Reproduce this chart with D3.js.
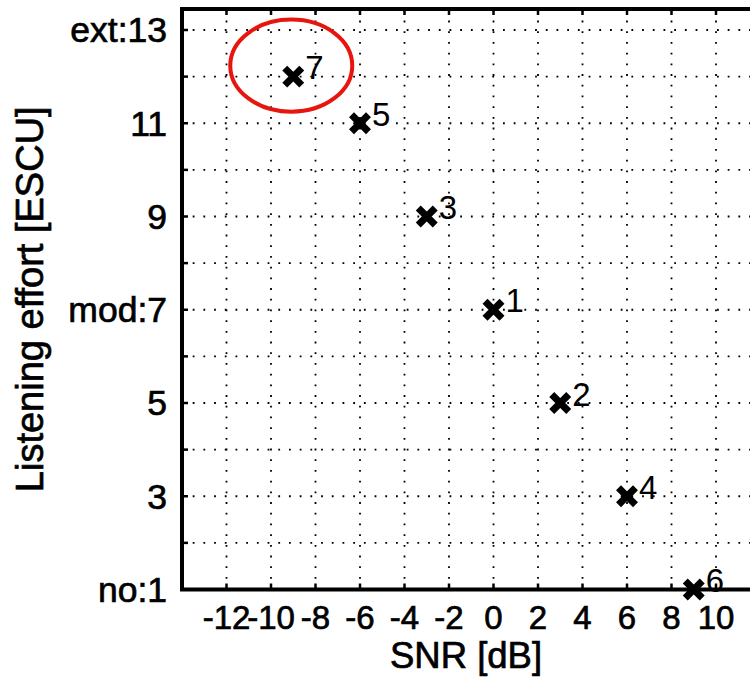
<!DOCTYPE html>
<html>
<head>
<meta charset="utf-8">
<script src="https://cdn.jsdelivr.net/npm/d3@7"></script>
<style>
  html, body { margin: 0; padding: 0; background: #fff; }
  svg { display: block; font-family: "Liberation Sans", Arial, sans-serif; }
  .heavy { stroke: #000; stroke-width: 0.7px; }
</style>
</head>
<body>
<div id="chart"></div>
<script>
// condition number, SNR and rated effort for each point
var pointLabels = ["1", "2", "3", "4", "5", "6", "7"]
var snr         = [0, 3, -3, 6, -6, 9, -9]
var effort      = [7, 5, 9, 3, 11, 1, 12]

var xTicks      = [-12, -10, -8, -6, -4, -2, 0, 2, 4, 6, 8, 10]
var yTicks      = [1, 3, 5, 7, 9, 11, 13]
var yTickLabels = ["no:1", "3", "5", "mod:7", "9", "11", "ext:13"]
var yGrid       = [2, 3, 4, 5, 6, 7, 8, 9, 10, 11, 12, 13]
var yMinor      = [1, 2, 3, 4, 5, 6, 7, 8, 9, 10, 11, 12, 13]

var highlighted = "7"

var width = 750, height = 677

var x = d3.scaleLinear().domain([-14, 10]).range([182, 716])
var y = d3.scaleLinear().domain([1, 13]).range([589.5, 30])
var xMax = 12, yMax = 13.45

var svg = d3.select('#chart').append('svg')
  .attr('width', width)
  .attr('height', height)

// dotted grid
var grid = svg.append('g')
  .attr('stroke', '#000')
  .attr('stroke-width', 1.8)
  .attr('stroke-dasharray', '1.8,8.9')

grid.selectAll('.vg').data(xTicks).enter().append('line')
  .attr('x1', function (d) { return x(d) })
  .attr('x2', function (d) { return x(d) })
  .attr('y1', y(1))
  .attr('y2', y(yMax))

grid.selectAll('.hg').data(yGrid).enter().append('line')
  .attr('x1', x(-14))
  .attr('x2', x(xMax))
  .attr('y1', function (d) { return y(d) })
  .attr('y2', function (d) { return y(d) })

// axes box (right side falls outside the picture)
var axes = svg.append('g')
  .attr('stroke', '#000')
  .attr('fill', 'none')

axes.append('path')
  .attr('stroke-width', 4)
  .attr('d', 'M' + x(xMax) + ',' + y(yMax) + 'H' + x(-14) + 'V' + y(1) + 'H' + x(xMax))

// inward ticks
axes.selectAll('.bt').data(xTicks).enter().append('line')
  .attr('stroke-width', 2.5)
  .attr('x1', function (d) { return x(d) })
  .attr('x2', function (d) { return x(d) })
  .attr('y1', y(1))
  .attr('y2', y(1) - 6)

axes.selectAll('.tt').data(xTicks).enter().append('line')
  .attr('stroke-width', 2.5)
  .attr('x1', function (d) { return x(d) })
  .attr('x2', function (d) { return x(d) })
  .attr('y1', y(yMax))
  .attr('y2', y(yMax) + 6)

axes.selectAll('.lt').data(yMinor).enter().append('line')
  .attr('stroke-width', 2.5)
  .attr('x1', x(-14))
  .attr('x2', x(-14) + 6)
  .attr('y1', function (d) { return y(d) })
  .attr('y2', function (d) { return y(d) })

// tick labels
svg.append('g').selectAll('text').data(xTicks).enter().append('text')
  .attr('class', 'heavy')
  .attr('x', function (d) { return x(d) })
  .attr('y', 629)
  .attr('text-anchor', 'middle')
  .attr('font-size', 33)
  .text(function (d) { return d })

svg.append('g').selectAll('text').data(yTicks).enter().append('text')
  .attr('class', 'heavy')
  .attr('x', 167)
  .attr('y', function (d) { return y(d) })
  .attr('dy', '0.35em')
  .attr('text-anchor', 'end')
  .attr('font-size', 35.5)
  .text(function (d, i) { return yTickLabels[i] })

// axis titles
svg.append('text')
  .attr('class', 'heavy')
  .attr('x', 466)
  .attr('y', 668)
  .attr('text-anchor', 'middle')
  .attr('font-size', 36.5)
  .text('SNR [dB]')

svg.append('text')
  .attr('class', 'heavy')
  .attr('transform', 'translate(43,' + ((y(1) + y(yMax)) / 2) + ') rotate(-90)')
  .attr('text-anchor', 'middle')
  .attr('font-size', 38)
  .text('Listening effort [ESCU]')

// points
var pts = pointLabels.map(function (l, i) { return { label: l, snr: snr[i], effort: effort[i] } })

var marks = svg.append('g').selectAll('g').data(pts).enter().append('g')
  .attr('transform', function (d) { return 'translate(' + x(d.snr) + ',' + y(d.effort) + ')' })

marks.append('path')
  .attr('d', 'M-8.5,-8.5L8.5,8.5M-8.5,8.5L8.5,-8.5')
  .attr('stroke', '#000')
  .attr('stroke-width', 7)

marks.append('text')
  .attr('x', 12)
  .attr('y', -9)
  .attr('dy', '0.35em')
  .attr('font-size', 33)
  .text(function (d) { return d.label })

// red ring round the highlighted point
var hp = pts.filter(function (d) { return d.label == highlighted })[0]
svg.append('ellipse')
  .attr('cx', x(hp.snr) - 2)
  .attr('cy', y(hp.effort) - 11)
  .attr('rx', 61)
  .attr('ry', 46)
  .attr('fill', 'none')
  .attr('stroke', '#e8150f')
  .attr('stroke-width', 4)
</script>
</body>
</html>
